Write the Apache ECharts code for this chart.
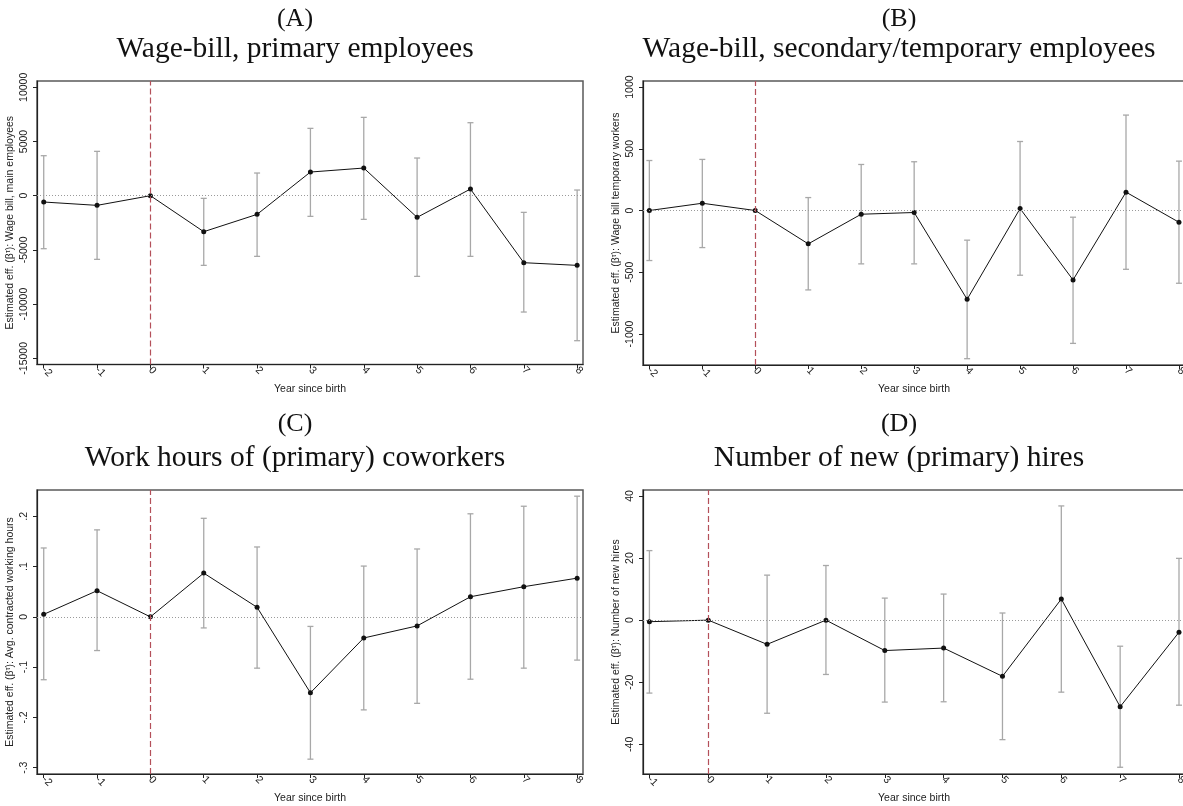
<!DOCTYPE html>
<html>
<head>
<meta charset="utf-8">
<script src="https://cdn.jsdelivr.net/npm/echarts@6/dist/echarts.min.js"></script>
<style>
html,body{margin:0;padding:0;background:#fff;}
#chart{width:1183px;height:806px;}
</style>
</head>
<body>
<div id="chart"></div>
<script>
// ---- data ----
const years = [-2, -1, 0, 1, 2, 3, 4, 5, 6, 7, 8];
const yearsD = [-1, 0, 1, 2, 3, 4, 5, 6, 7, 8];

const estA = [-584, -892, 0, -3321, -1722, 2183, 2552, -1999, 615, -6181, -6427];
const loA  = [-4889, -5873, null, -6427, -5597, -1907, -2183, -7442, -5597, -10732, -13376];
const hiA  = [3690, 4090, null, -246, 2091, 6212, 7226, 3475, 6734, -1538, 523];

const estB = [0, 59, 0, -270, -30, -16, -719, 16, -562, 149, -95];
const loB  = [-405, -300, null, -643, -432, -432, -1200, -524, -1076, -476, -589];
const hiB  = [405, 414, null, 105, 373, 395, -240, 559, -54, 773, 400];

const estC = [0.005, 0.052, 0, 0.087, 0.019, -0.151, -0.042, -0.018, 0.040, 0.060, 0.077];
const loC  = [-0.125, -0.067, null, -0.022, -0.102, -0.283, -0.185, -0.172, -0.124, -0.102, -0.086];
const hiC  = [0.137, 0.173, null, 0.196, 0.139, -0.019, 0.101, 0.135, 0.205, 0.220, 0.240];

const estD = [-0.5, 0, -7.8, 0, -9.8, -9.0, -18.1, 6.8, -27.9, -3.9];
const loD  = [-23.5, null, -30.0, -17.5, -26.4, -26.3, -38.5, -23.2, -47.4, -27.4];
const hiD  = [22.4, null, 14.5, 17.6, 7.1, 8.4, 2.3, 36.8, -8.4, 19.9];

const yTicksA = [-15000, -10000, -5000, 0, 5000, 10000];
const yTickLabelsA = ['-15000', '-10000', '-5000', '0', '5000', '10000'];
const yTicksB = [-1000, -500, 0, 500, 1000];
const yTickLabelsB = ['-1000', '-500', '0', '500', '1000'];
const yTicksC = [-0.3, -0.2, -0.1, 0, 0.1, 0.2];
const yTickLabelsC = ['-.3', '-.2', '-.1', '0', '.1', '.2'];
const yTicksD = [-40, -20, 0, 20, 40];
const yTickLabelsD = ['-40', '-20', '0', '20', '40'];

const panelLetters = ['(A)', '(B)', '(C)', '(D)'];
const panelTitles = [
  'Wage-bill, primary employees',
  'Wage-bill, secondary/temporary employees',
  'Work hours of (primary) coworkers',
  'Number of new (primary) hires'
];
const yNames = [
  'Estimated eff. (β{s|τ}): Wage bill, main employees',
  'Estimated eff. (β{s|τ}): Wage bill temporary workers',
  'Estimated eff. (β{s|τ}): Avg. contracted working hours',
  'Estimated eff. (β{s|τ}): Number of new hires'
];
const xName = 'Year since birth';

// ---- layout ----
const panels = [
  {x: years,  est: estA, lo: loA, hi: hiA, yt: yTicksA, yl: yTickLabelsA,
   grid: {left: 37, top: 81, width: 546, height: 283.5}, ymin: -15572, ymax: 10581, xmin: -2.126, xmax: 8.11,
   tx: 295, ly: 19.5, ty: 49.5},
  {x: years,  est: estB, lo: loB, hi: hiB, yt: yTicksB, yl: yTickLabelsB,
   grid: {left: 643, top: 81, width: 542, height: 284}, ymin: -1251, ymax: 1049, xmin: -2.12, xmax: 8.114,
   tx: 899, ly: 19.5, ty: 49.5},
  {x: years,  est: estC, lo: loC, hi: hiC, yt: yTicksC, yl: yTickLabelsC,
   grid: {left: 37, top: 490, width: 546, height: 284}, ymin: -0.3125, ymax: 0.2523, xmin: -2.126, xmax: 8.11,
   tx: 295, ly: 424, ty: 458},
  {x: yearsD, est: estD, lo: loD, hi: hiD, yt: yTicksD, yl: yTickLabelsD,
   grid: {left: 643, top: 490, width: 542, height: 284}, ymin: -49.57, ymax: 41.93, xmin: -1.109, xmax: 8.102,
   tx: 899, ly: 424, ty: 458}
];

const textColor = '#222';
const grids = [], xAxes = [], yAxes = [], series = [], graphics = [];

panels.forEach((p, i) => {
  grids.push(Object.assign({show: true, borderColor: '#5a5a5a', borderWidth: 1.5, backgroundColor: '#fff',
    containLabel: false, outerBoundsMode: 'none'}, p.grid));
  xAxes.push({
    type: 'value', gridIndex: i, min: p.xmin, max: p.xmax,
    name: xName, nameLocation: 'middle', nameGap: 19,
    nameTextStyle: {fontFamily: 'Liberation Sans', fontSize: 10.5, color: textColor},
    axisLine: {show: true, onZero: false, lineStyle: {color: '#222', width: 1.2}},
    axisTick: {show: true, length: 4, customValues: p.x, lineStyle: {color: '#222'}},
    axisLabel: {customValues: p.x, rotate: -45, margin: 4, fontFamily: 'Liberation Sans', fontSize: 10.5, color: textColor,
      formatter: v => String(v)},
    splitLine: {show: false}
  });
  yAxes.push({
    type: 'value', gridIndex: i, min: p.ymin, max: p.ymax,
    name: yNames[i], nameLocation: 'middle', nameRotate: 90, nameGap: 21,
    nameTextStyle: {fontFamily: 'Liberation Sans', fontSize: 10.5, color: textColor,
      rich: {s: {fontSize: 7, verticalAlign: 'top', fontFamily: 'Liberation Sans', color: textColor}}},
    axisLine: {show: true, onZero: false, lineStyle: {color: '#222', width: 1.2}},
    axisTick: {show: true, length: 4, customValues: p.yt, lineStyle: {color: '#222'}},
    axisLabel: {customValues: p.yt, rotate: 90, margin: 7, fontFamily: 'Liberation Sans', fontSize: 10.5, color: textColor,
      formatter: v => {
        const k = p.yt.findIndex(t => Math.abs(t - v) < 1e-9);
        return k >= 0 ? p.yl[k] : '';
      }},
    splitLine: {show: false}
  });

  // reference lines
  series.push({
    type: 'line', xAxisIndex: i, yAxisIndex: i, data: [], silent: true, z: 1,
    markLine: {
      silent: true, symbol: 'none', label: {show: false}, animation: false,
      data: [
        {yAxis: 0, lineStyle: {color: '#9a9a9a', type: [1, 2], width: 1}},
        {xAxis: 0, lineStyle: {color: '#b4505a', type: [6, 3], width: 1.2}}
      ]
    }
  });

  // error bars
  const ebData = [];
  p.x.forEach((xv, k) => { if (p.lo[k] !== null) ebData.push([xv, p.lo[k], p.hi[k]]); });
  series.push({
    type: 'custom', xAxisIndex: i, yAxisIndex: i, z: 2, silent: true,
    data: ebData,
    encode: {x: 0, y: [1, 2]},
    renderItem: (params, api) => {
      const xv = api.value(0);
      const a = api.coord([xv, api.value(1)]);
      const b = api.coord([xv, api.value(2)]);
      const cap = 3;
      const st = {stroke: '#a8a8a8', lineWidth: 1.3};
      return {type: 'group', children: [
        {type: 'line', shape: {x1: a[0], y1: a[1], x2: b[0], y2: b[1]}, style: st},
        {type: 'line', shape: {x1: a[0] - cap, y1: a[1], x2: a[0] + cap, y2: a[1]}, style: st},
        {type: 'line', shape: {x1: b[0] - cap, y1: b[1], x2: b[0] + cap, y2: b[1]}, style: st}
      ]};
    }
  });

  // point estimates
  series.push({
    type: 'line', xAxisIndex: i, yAxisIndex: i, z: 3, silent: true,
    data: p.x.map((xv, k) => [xv, p.est[k]]),
    symbol: 'circle', symbolSize: 5, clip: false,
    lineStyle: {color: '#111', width: 1},
    itemStyle: {color: '#111'}
  });

  graphics.push({type: 'text', x: p.tx, y: p.ly, style: {text: panelLetters[i], fontFamily: 'Liberation Serif', fontSize: 26, fill: '#111', align: 'center', verticalAlign: 'middle'}});
  graphics.push({type: 'text', x: p.tx, y: p.ty, style: {text: panelTitles[i], fontFamily: 'Liberation Serif', fontSize: 29.5, fill: '#111', align: 'center', verticalAlign: 'middle'}});
});

const chart = echarts.init(document.getElementById('chart'), null, {renderer: 'canvas'});
chart.setOption({
  animation: false,
  backgroundColor: '#fff',
  grid: grids, xAxis: xAxes, yAxis: yAxes, series: series, graphic: graphics
});
</script>
</body>
</html>
